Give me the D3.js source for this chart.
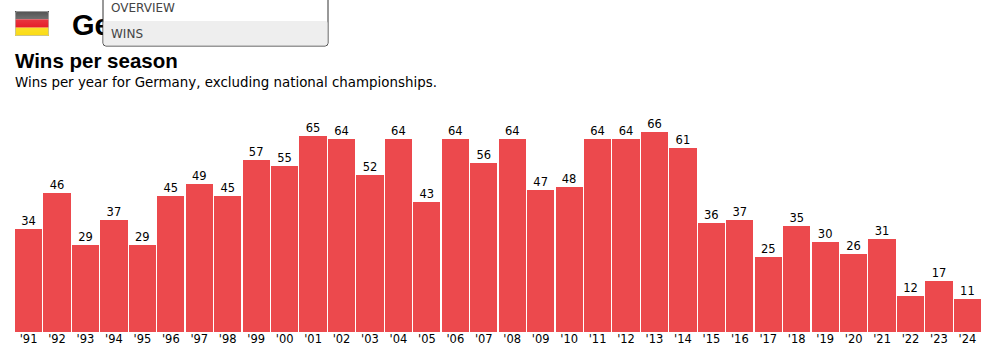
<!DOCTYPE html>
<html>
<head>
<meta charset="utf-8">
<script src="https://cdn.jsdelivr.net/npm/d3@7"></script>
<style>
html, body { margin: 0; padding: 0; background: #fff; overflow: hidden; }
svg { display: block; }
text { font-family: "DejaVu Sans", sans-serif; fill: #000; }
.head { font-family: "Liberation Sans", Arial, sans-serif; font-weight: bold; }
.menu { font-family: "DejaVu Sans", sans-serif; fill: #444; font-size: 12px; }
</style>
</head>
<body>
<svg id="chart" width="986" height="353"></svg>
<script>
var years = ["'91","'92","'93","'94","'95","'96","'97","'98","'99","'00","'01","'02","'03","'04","'05","'06","'07","'08","'09","'10","'11","'12","'13","'14","'15","'16","'17","'18","'19","'20","'21","'22","'23","'24"];
var wins = [34,46,29,37,29,45,49,45,57,55,65,64,52,64,43,64,56,64,47,48,64,64,66,61,36,37,25,35,30,26,31,12,17,11];
var flagColors = ["#4a4a4a", "#e30613", "#fbdc14"];
var menuItems = ["OVERVIEW", "WINS"];

var svg = d3.select('#chart');

// bars
var x = d3.scaleBand().domain(years).range([15, 981]).paddingInner(0.045).paddingOuter(0);
var y = d3.scaleLinear().domain([0, 66]).range([332, 132]);

svg.append('g').selectAll('rect')
    .data(wins)
    .enter().append('rect')
    .attr('x', function(d, i) { return x(years[i]); })
    .attr('y', function(d) { return Math.ceil(y(d)); })
    .attr('width', x.bandwidth())
    .attr('height', function(d) { return y(0) - Math.ceil(y(d)); })
    .attr('shape-rendering', 'crispEdges')
    .attr('fill', '#ec494d');

svg.append('g').selectAll('text')
    .data(wins)
    .enter().append('text')
    .attr('x', function(d, i) { return x(years[i]) + x.bandwidth() / 2; })
    .attr('y', function(d) { return Math.ceil(y(d)) - 4; })
    .attr('text-anchor', 'middle')
    .style('font-size', '11.5px')
    .text(function(d) { return d; });

var axis = d3.axisBottom(x).tickSize(0).tickPadding(3);
var axisG = svg.append('g').attr('transform', 'translate(0,332)').call(axis);
axisG.select('.domain').remove();
axisG.selectAll('text').style('font-size', '11.5px').style('font-family', '"DejaVu Sans", sans-serif');

// header
var defs = svg.append('defs');
var shine = defs.append('linearGradient').attr('id', 'shine').attr('x1', 0).attr('y1', 0).attr('x2', 0).attr('y2', 1);
shine.append('stop').attr('offset', '0%').attr('stop-color', '#fff').attr('stop-opacity', 0.05);
shine.append('stop').attr('offset', '30%').attr('stop-color', '#fff').attr('stop-opacity', 0.2);
shine.append('stop').attr('offset', '100%').attr('stop-color', '#fff').attr('stop-opacity', 0);

var flagY = d3.scaleBand().domain(flagColors).range([11, 36]);
svg.append('g').selectAll('rect')
    .data(flagColors)
    .enter().append('rect')
    .attr('x', 15)
    .attr('y', function(d) { return flagY(d); })
    .attr('width', 34)
    .attr('height', flagY.bandwidth())
    .attr('fill', function(d) { return d; });
svg.append('rect').attr('x', 15.5).attr('y', 11.5).attr('width', 33).attr('height', 24).attr('rx', 1.5)
    .attr('fill', 'url(#shine)').attr('stroke', '#bbb').attr('stroke-opacity', 0.7);

svg.append('text').attr('class', 'head').attr('x', 72).attr('y', 35).style('font-size', '29px').text('Germany');
svg.append('text').attr('class', 'head').attr('x', 15).attr('y', 68).style('font-size', '20.5px').text('Wins per season');
svg.append('text').attr('x', 15).attr('y', 87).style('font-size', '13.4px').text('Wins per year for Germany, excluding national championships.');

// dropdown
svg.append('rect').attr('x', 103).attr('y', -10).attr('width', 225).attr('height', 56).attr('rx', 3)
    .attr('fill', '#fff').attr('stroke', '#333').attr('stroke-width', 1);
svg.append('rect').attr('x', 103.5).attr('y', 21).attr('width', 224).attr('height', 24.5).attr('rx', 2).attr('fill', '#eee');
svg.selectAll('.menu')
    .data(menuItems)
    .enter().append('text')
    .attr('class', 'menu')
    .attr('x', 111)
    .attr('y', function(d, i) { return 12 + i * 26; })
    .text(function(d) { return d; });
</script>
</body>
</html>
